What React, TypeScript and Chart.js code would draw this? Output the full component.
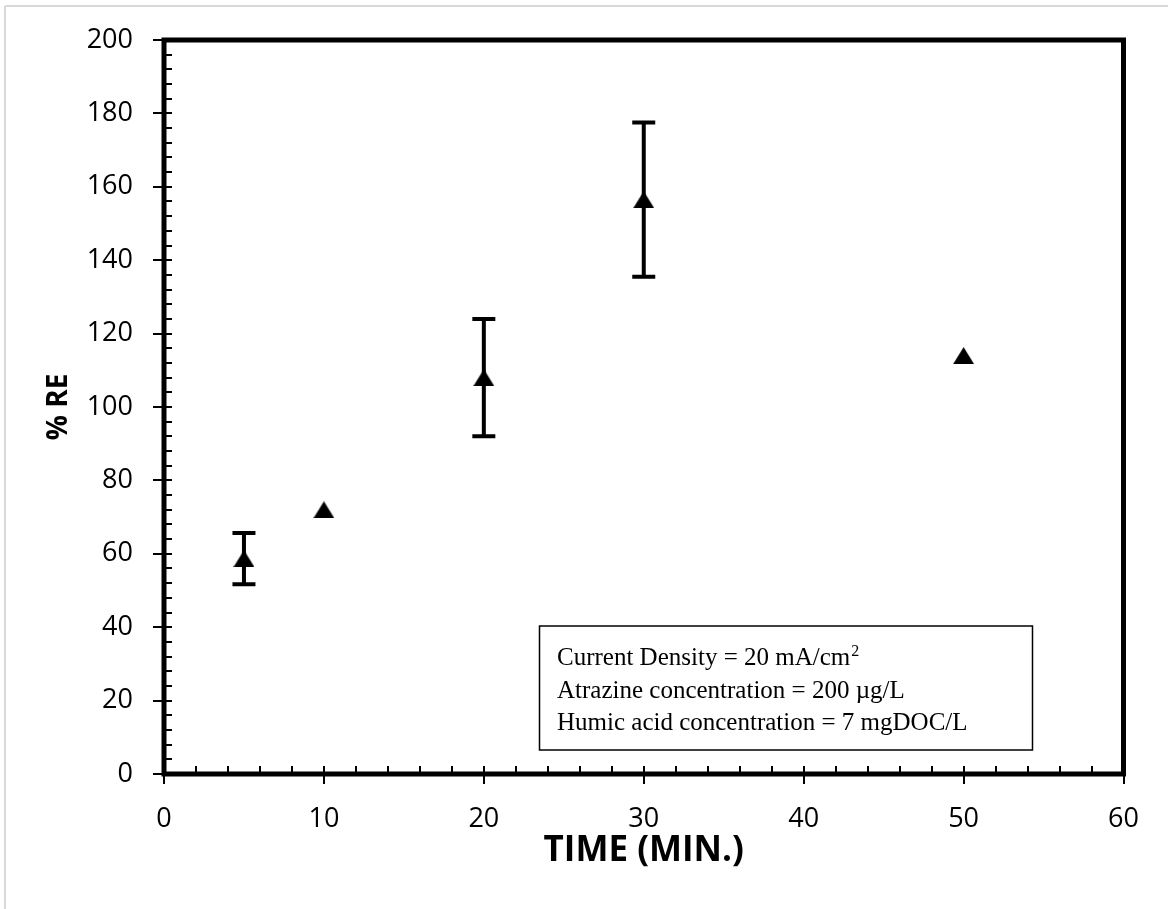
import React, { useEffect, useRef } from "react";
import { Chart, registerables } from "chart.js";

Chart.register(...registerables);

// ---- data ----
const timeMin = [5, 10, 20, 30, 50];
const removalPct = [58.7, 72, 108, 156.5, 114];
const errorPct: (number | null)[] = [7, null, 16, 21, null];

const xMin = 0;
const xMax = 60;
const xStep = 10;
const xMinorStep = 2;
const yMin = 0;
const yMax = 200;
const yStep = 20;
const yMinorStep = 4;

const xTitle = "TIME (MIN.)";
const yTitle = "% RE";
const noteLines = [
  ["Current Density = 20 mA/cm", "2"],
  ["Atrazine concentration = 200 \u00b5g/L", ""],
  ["Humic acid concentration = 7 mgDOC/L", ""],
];

const FONT = "'Open Sans', 'Noto Sans', sans-serif";

function makeTriangle(): HTMLCanvasElement {
  const c = document.createElement("canvas");
  c.width = 21;
  c.height = 17;
  const g = c.getContext("2d")!;
  g.fillStyle = "#000";
  g.beginPath();
  g.moveTo(0, 17);
  g.lineTo(10.5, 0);
  g.lineTo(21, 17);
  g.closePath();
  g.fill();
  return c;
}

const decorPlugin = {
  id: "decor",
  beforeDraw(chart: any) {
    const ctx = chart.ctx;
    ctx.save();
    ctx.fillStyle = "#fff";
    ctx.fillRect(0, 0, chart.width, chart.height);
    ctx.strokeStyle = "#d9d9d9";
    ctx.lineWidth = 2;
    ctx.beginPath();
    ctx.moveTo(5, 6);
    ctx.lineTo(5, chart.height);
    ctx.moveTo(5, 6);
    ctx.lineTo(chart.width, 6);
    ctx.stroke();
    ctx.restore();
  },
  beforeDatasetsDraw(chart: any) {
    const ctx = chart.ctx;
    const { left, bottom } = chart.chartArea;
    const xs = chart.scales.x;
    const ys = chart.scales.y;
    ctx.save();
    ctx.strokeStyle = "#000";
    ctx.lineWidth = 2;
    ctx.beginPath();
    for (let v = yMin; v <= yMax + 1e-9; v += yMinorStep) {
      const py = Math.round(ys.getPixelForValue(v));
      const major = Math.abs(v / yStep - Math.round(v / yStep)) < 1e-6;
      ctx.moveTo(major ? left - 11 : left, py);
      ctx.lineTo(left + 8, py);
    }
    for (let v = xMin; v <= xMax + 1e-9; v += xMinorStep) {
      const px = Math.round(xs.getPixelForValue(v));
      const major = Math.abs(v / xStep - Math.round(v / xStep)) < 1e-6;
      ctx.moveTo(px, major ? bottom + 10 : bottom);
      ctx.lineTo(px, bottom - 8);
    }
    ctx.stroke();

    ctx.lineWidth = 4;
    ctx.lineCap = "butt";
    ctx.beginPath();
    timeMin.forEach((t, i) => {
      const e = errorPct[i];
      if (e == null) return;
      const px = xs.getPixelForValue(t);
      const hi = ys.getPixelForValue(removalPct[i] + e);
      const lo = ys.getPixelForValue(removalPct[i] - e);
      ctx.moveTo(px, hi);
      ctx.lineTo(px, lo);
      ctx.moveTo(px - 11.5, hi);
      ctx.lineTo(px + 11.5, hi);
      ctx.moveTo(px - 11.5, lo);
      ctx.lineTo(px + 11.5, lo);
    });
    ctx.stroke();
    ctx.restore();
  },
  afterDraw(chart: any) {
    const ctx = chart.ctx;
    const { left, right, top, bottom } = chart.chartArea;
    ctx.save();
    ctx.strokeStyle = "#000";
    ctx.lineWidth = 5;
    ctx.strokeRect(left, top, right - left, bottom - top);

    const bx = 539.5, by = 626, bw = 493, bh = 124;
    ctx.fillStyle = "#fff";
    ctx.fillRect(bx, by, bw, bh);
    ctx.lineWidth = 1.5;
    ctx.strokeRect(bx, by, bw, bh);
    ctx.fillStyle = "#000";
    ctx.textBaseline = "alphabetic";
    ctx.textAlign = "left";
    const fs = 25;
    noteLines.forEach((ln, i) => {
      const y = 665 + i * 32.5;
      ctx.font = `${fs}px 'Liberation Serif', 'Times New Roman', serif`;
      ctx.fillText(ln[0], 557, y);
      if (ln[1]) {
        const w = ctx.measureText(ln[0]).width;
        ctx.font = `${Math.round(fs * 0.65)}px 'Liberation Serif', 'Times New Roman', serif`;
        ctx.fillText(ln[1], 557 + w + 1, y - 9);
      }
    });
    ctx.restore();
  },
};

export default function App() {
  const ref = useRef<HTMLCanvasElement | null>(null);
  useEffect(() => {
    document.body.style.margin = "0";
    const tri = makeTriangle();
    const chart = new Chart(ref.current!, {
      type: "scatter",
      data: {
        datasets: [
          {
            label: "% RE",
            data: timeMin.map((t, i) => ({ x: t, y: removalPct[i] })),
            pointStyle: tri as any,
            pointRadius: 10,
            backgroundColor: "#000",
            borderColor: "#000",
            showLine: false,
          },
        ],
      },
      options: {
        responsive: false,
        animation: false,
        maintainAspectRatio: false,
        layout: { padding: { top: 40, right: 44.5, left: 0, bottom: 0 } },
        plugins: { legend: { display: false }, tooltip: { enabled: false } },
        scales: {
          x: {
            type: "linear",
            min: xMin,
            max: xMax,
            grid: { display: false, drawTicks: false },
            border: { display: false },
            ticks: {
              stepSize: xStep,
              padding: 29,
              color: "#000",
              font: { family: FONT, size: 27 },
              maxRotation: 0,
            },
            title: {
              display: true,
              text: xTitle,
              color: "#000",
              font: { family: FONT, size: 35, weight: "bold" },
              padding: { top: 37, bottom: 37 },
            },
            afterFit(s: any) {
              s.height = 135;
              s.paddingLeft = 0;
              s.paddingRight = 0;
            },
          },
          y: {
            type: "linear",
            min: yMin,
            max: yMax,
            grid: { display: false, drawTicks: false },
            border: { display: false },
            ticks: {
              stepSize: yStep,
              padding: 31,
              color: "#000",
              font: { family: FONT, size: 27 },
            },
            title: {
              display: true,
              text: yTitle,
              color: "#000",
              font: { family: FONT, size: 28, weight: "bold" },
              padding: { top: 42, bottom: 42 },
            },
            afterFit(s: any) {
              s.width = 164;
              s.paddingTop = 0;
              s.paddingBottom = 0;
            },
          },
        },
      },
      plugins: [decorPlugin],
    } as any);
    return () => chart.destroy();
  }, []);
  return (
    <div style={{ width: 1168, height: 909 }}>
      <canvas ref={ref} width={1168} height={909} style={{ display: "block" }} />
    </div>
  );
}
